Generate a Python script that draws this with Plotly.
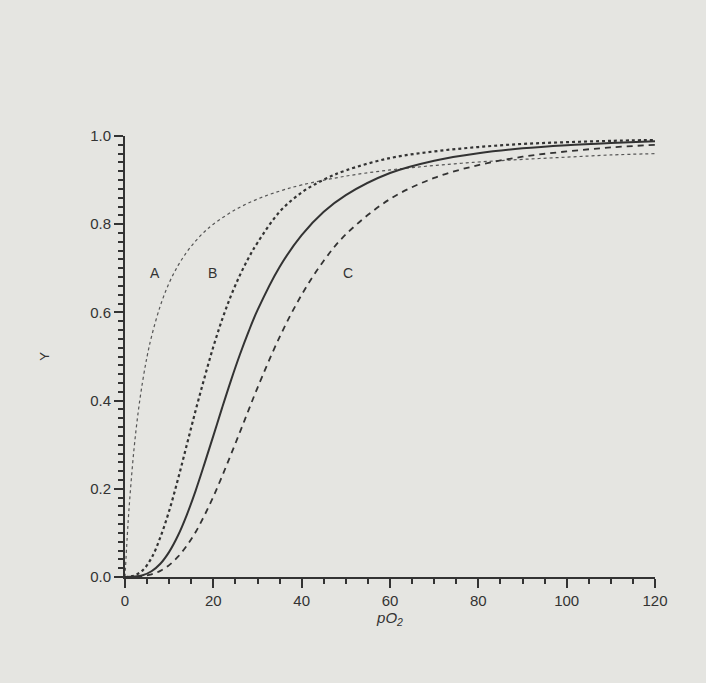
import plotly.graph_objects as go

# pO2 values and fractional saturation
x_a = [0, 0.5, 1, 2, 3, 4, 5, 6, 8, 10, 12, 14, 16, 18, 20, 25, 30, 35, 40,
       50, 60, 70, 80, 90, 100, 110, 120]
y_a = [0, 0.091, 0.167, 0.286, 0.375, 0.444, 0.5, 0.545, 0.615, 0.667, 0.706,
       0.737, 0.762, 0.783, 0.8, 0.833, 0.857, 0.875, 0.889, 0.909, 0.923,
       0.933, 0.941, 0.947, 0.952, 0.957, 0.96]

x_curve = [0, 2, 4, 6, 8, 10, 12, 14, 16, 18, 20, 22, 24, 26, 28, 30, 35, 40,
           45, 50, 60, 70, 80, 90, 100, 110, 120]
y_b = [0, 0.003, 0.015, 0.043, 0.090, 0.150, 0.222, 0.300, 0.378, 0.452,
       0.522, 0.584, 0.638, 0.684, 0.724, 0.758, 0.828, 0.872, 0.901, 0.922,
       0.950, 0.965, 0.975, 0.982, 0.986, 0.989, 0.991]
y_hb = [0, 0.001, 0.004, 0.013, 0.030, 0.057, 0.094, 0.141, 0.196, 0.257,
        0.320, 0.384, 0.446, 0.504, 0.557, 0.605, 0.703, 0.775, 0.828, 0.866,
        0.916, 0.944, 0.961, 0.972, 0.979, 0.984, 0.988]
y_c = [0, 0.0002, 0.002, 0.006, 0.014, 0.027, 0.046, 0.071, 0.102, 0.140,
       0.182, 0.229, 0.278, 0.328, 0.379, 0.429, 0.544, 0.640, 0.717, 0.777,
       0.857, 0.905, 0.934, 0.953, 0.965, 0.974, 0.980]

curve_labels = ["A", "B", "C"]
label_x = [6.8, 19.9, 50.5]
label_y = [0.69, 0.69, 0.69]

ink = "#333333"
paper = "#e5e5e1"
font = "Liberation Sans, Arial, sans-serif"

fig = go.Figure()
fig.add_trace(go.Scatter(x=x_a, y=y_a, mode="lines", line_shape="spline",
                         line=dict(color="#555555", width=1.2, dash="dot")))
fig.add_trace(go.Scatter(x=x_curve, y=y_b, mode="lines", line_shape="spline",
                         line=dict(color=ink, width=2.2, dash="dot")))
fig.add_trace(go.Scatter(x=x_curve, y=y_hb, mode="lines", line_shape="spline",
                         line=dict(color=ink, width=2)))
fig.add_trace(go.Scatter(x=x_curve, y=y_c, mode="lines", line_shape="spline",
                         line=dict(color=ink, width=1.8, dash="6px,5px")))

for t, lx, ly in zip(curve_labels, label_x, label_y):
    fig.add_annotation(x=lx, y=ly, text=t, showarrow=False,
                       font=dict(size=14, color=ink, family=font))

fig.update_layout(
    width=706, height=683,
    margin=dict(l=125, r=51, t=136, b=106),
    paper_bgcolor=paper, plot_bgcolor=paper,
    showlegend=False,
    font=dict(family=font, color=ink, size=15),
)
fig.update_xaxes(
    range=[0, 120], tickvals=[0, 20, 40, 60, 80, 100, 120],
    showgrid=False, zeroline=False, showline=True, linecolor=ink, linewidth=2,
    ticks="outside", ticklen=9, tickwidth=2, tickcolor=ink,
    minor=dict(dtick=5, ticks="outside", ticklen=5, tickwidth=2, tickcolor=ink),
    title=dict(text="<i>pO<sub>2</sub></i>", standoff=4, font=dict(size=15)),
)
fig.update_yaxes(
    range=[0, 1.0], tickvals=[0, 0.2, 0.4, 0.6, 0.8, 1.0], tickformat=".1f",
    showgrid=False, zeroline=False, showline=True, linecolor=ink, linewidth=2,
    ticks="outside", ticklen=9, tickwidth=2, tickcolor=ink,
    minor=dict(dtick=0.02, ticks="outside", ticklen=5, tickwidth=2, tickcolor=ink),
    title=dict(text="Y", standoff=38, font=dict(size=13)),
)

fig.write_html("out.html", config={"displayModeBar": False},
               post_script="document.body.style.margin='0';"
                           "document.body.style.background='#e5e5e1';")
